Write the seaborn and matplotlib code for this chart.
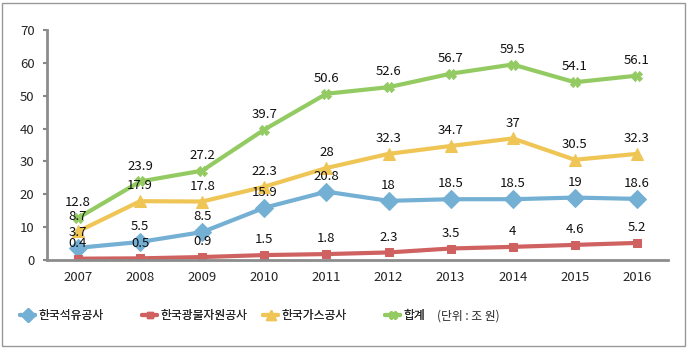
import numpy as np
import pandas as pd
import seaborn as sns
import matplotlib.pyplot as plt
from matplotlib.lines import Line2D
from matplotlib.patches import Rectangle

# Data -----------------------------------------------------------------------
YEARS = [2007, 2008, 2009, 2010, 2011, 2012, 2013, 2014, 2015, 2016]
OIL = [3.7, 5.5, 8.5, 15.9, 20.8, 18, 18.5, 18.5, 19, 18.6]
MINE = [0.4, 0.5, 0.9, 1.5, 1.8, 2.3, 3.5, 4, 4.6, 5.2]
GAS = [8.7, 17.9, 17.8, 22.3, 28, 32.3, 34.7, 37, 30.5, 32.3]
TOTAL = [12.8, 23.9, 27.2, 39.7, 50.6, 52.6, 56.7, 59.5, 54.1, 56.1]
NAMES = ['한국석유공사', '한국광물자원공사', '한국가스공사', '합계']
UNIT = '(단위 : 조 원)'

sns.set_style('white')
plt.rcParams['font.family'] = ['Noto Sans CJK KR', 'DejaVu Sans']

SERIES = [
    (OIL, '#74B0D4', 'D', 9),
    (MINE, '#CF6160', 's', 6),
    (GAS, '#EFC555', '^', 9),
    (TOTAL, '#93CB62', 'X', 7),
]

fig = plt.figure(figsize=(6.92, 3.54), dpi=100)
ax = fig.add_axes([47/692, 1-260/354, (668-47)/692, 230/354])

for (vals, col, mk, ms), name in zip(SERIES, NAMES):
    sns.lineplot(x=YEARS, y=vals, ax=ax, color=col, marker=mk, markersize=ms,
                 markeredgecolor=col, linewidth=3, label=name, legend=False)
    for x, v in zip(YEARS, vals):
        ax.annotate(f'{v:g}', (x, v), xytext=(0, 11), textcoords='offset points',
                    ha='center', va='center', fontsize=9.5, color='#111111')

ax.set_xlim(2006.5, 2016.5)
ax.set_ylim(0, 70)
ax.set_yticks(range(0, 71, 10))
ax.set_xticks(YEARS)
ax.set_xticklabels([str(y) for y in YEARS])
ax.tick_params(axis='y', length=3, width=1.5, color='#888888', labelsize=9.5, pad=6, left=True)
ax.tick_params(axis='x', length=0, labelsize=9.5, pad=8)
for s in ['top', 'right']:
    ax.spines[s].set_visible(False)
for s in ['left', 'bottom']:
    ax.spines[s].set_color('#8c8c8c')
    ax.spines[s].set_linewidth(2)

# Legend ---------------------------------------------------------------------
xpos = [20, 142, 263, 385]
for (vals, col, mk, ms), name, xp in zip(SERIES, NAMES, xpos):
    h = Line2D([], [], color=col, marker=mk, markersize=ms * 0.8, markeredgecolor=col, linewidth=3)
    lg = fig.legend([h], [name], loc='center left', bbox_to_anchor=(xp/692, 1-316/354),
                    frameon=False, fontsize=8.5, handlelength=1.3, handletextpad=0.3,
                    borderpad=0, borderaxespad=0)
    fig.add_artist(lg)
fig.text(437/692, 1-316/354, UNIT, fontsize=8.5, va='center', ha='left')

fig.add_artist(Rectangle((2/692, 1-346/354), (685-2)/692, (346-3)/354,
                         transform=fig.transFigure, fill=False, edgecolor='#999999', linewidth=1))

fig.savefig('out.png', dpi=100)
